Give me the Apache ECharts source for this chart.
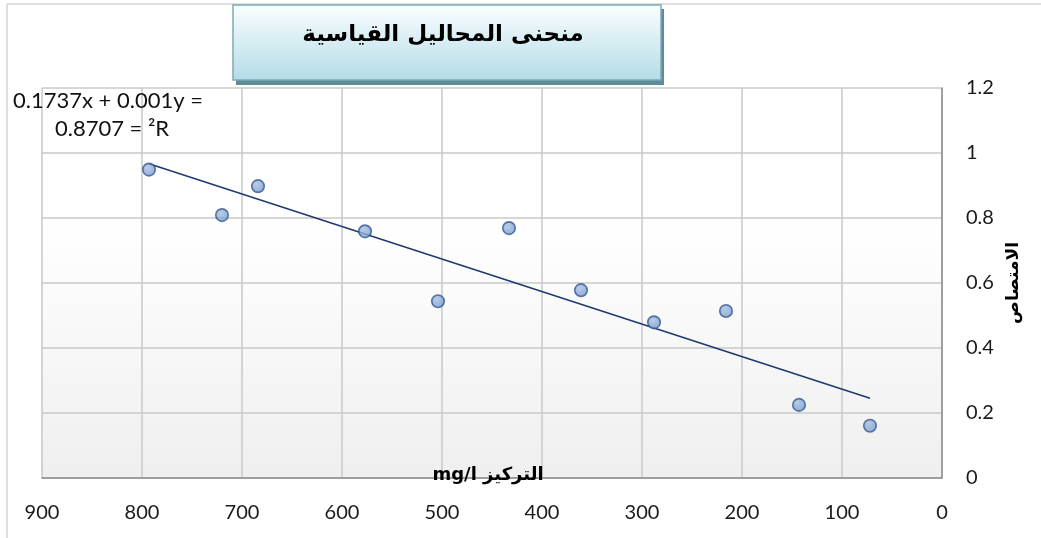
<!DOCTYPE html>
<html>
<head>
<meta charset="utf-8">
<script src="https://cdn.jsdelivr.net/npm/echarts@6/dist/echarts.min.js"></script>
<style>
html,body{margin:0;padding:0;background:#fff;}
#c{width:1041px;height:538px;}
</style>
</head>
<body>
<div id="c"></div>
<script>
// ---- data ----
var concentration = [793, 720, 684, 577, 504, 433, 361, 288, 216, 143, 72];
var absorbance    = [0.949, 0.809, 0.898, 0.759, 0.544, 0.769, 0.578, 0.479, 0.514, 0.225, 0.161];
var trendSlope = 0.001;
var trendIntercept = 0.1737;
var titleText = 'منحنى المحاليل القياسية';
var equationLine1 = '0.1737x + 0.001y =';
var equationLine2 = '0.8707 = ²R';
var xAxisName = 'mg/l التركيز';
var yAxisName = 'الامتصاص';

var points = concentration.map(function (x, i) { return [x, absorbance[i]]; });
var xMin = Math.min.apply(null, concentration);
var xMax = Math.max.apply(null, concentration);
var trend = [[xMax, trendSlope * xMax + trendIntercept], [xMin, trendSlope * xMin + trendIntercept]];

var font = 'Lato, "Open Sans", sans-serif';
var chart = echarts.init(document.getElementById('c'));
chart.setOption({
  animation: false,
  grid: {
    left: 42, right: 99, top: 88, bottom: 60,
    show: true, borderWidth: 0,
    backgroundColor: {
      type: 'linear', x: 0, y: 0, x2: 0, y2: 1,
      colorStops: [{offset: 0, color: '#ffffff'}, {offset: 0.35, color: '#ffffff'}, {offset: 1, color: '#efefef'}]
    }
  },
  xAxis: {
    type: 'value', inverse: true, min: 0, max: 900, interval: 100,
    axisLine: {show: true, lineStyle: {color: '#8c8c8c', width: 1.5}},
    axisTick: {show: false},
    splitLine: {show: true, lineStyle: {color: '#c8c8c8', width: 1.5}},
    axisLabel: {color: '#1a1a1a', fontSize: 20, fontFamily: font, margin: 25}
  },
  yAxis: {
    type: 'value', position: 'right', min: 0, max: 1.2, interval: 0.2,
    axisLine: {show: true, lineStyle: {color: '#8c8c8c', width: 1.5}},
    axisTick: {show: false},
    splitLine: {show: true, lineStyle: {color: '#c8c8c8', width: 1.5}},
    axisLabel: {color: '#1a1a1a', fontSize: 20, fontFamily: font, margin: 24},
    name: yAxisName, nameLocation: 'middle', nameRotate: 90, nameGap: 60,
    nameTextStyle: {color: '#000', fontSize: 17, fontWeight: 'bold', fontFamily: 'DejaVu Sans, sans-serif'}
  },
  series: [
    {
      type: 'line', data: trend, symbol: 'none', silent: true,
      lineStyle: {color: '#1f3a6e', width: 1.6}, z: 2
    },
    {
      type: 'scatter', data: points, symbol: 'circle', symbolSize: 12.5,
      itemStyle: {
        color: {type: 'radial', x: 0.4, y: 0.35, r: 0.7, colorStops: [{offset: 0, color: '#a6c0e4'}, {offset: 1, color: '#7097cc'}]},
        borderColor: '#34578f', borderWidth: 1.6
      }, z: 3
    }
  ],
  graphic: [
    {type: 'line', shape: {x1: 7, y1: 4, x2: 1041, y2: 4}, style: {stroke: '#d4d4d4', lineWidth: 1.5}, z: 1},
    {type: 'line', shape: {x1: 7, y1: 4, x2: 7, y2: 538}, style: {stroke: '#d4d4d4', lineWidth: 1.5}, z: 1},
    {type: 'rect', shape: {x: 236, y: 9, width: 428, height: 76}, style: {fill: '#5d8c99'}, z: 10},
    {type: 'rect', shape: {x: 233, y: 5, width: 428, height: 75},
      style: {
        fill: {type: 'linear', x: 0, y: 0, x2: 0, y2: 1, colorStops: [{offset: 0, color: '#fbfeff'}, {offset: 1, color: '#b3dce7'}]},
        stroke: '#7fa9b5', lineWidth: 1.5
      }, z: 11},
    {type: 'text', x: 443, y: 35, style: {text: titleText, fill: '#000', font: 'bold 23px "DejaVu Sans", sans-serif', textAlign: 'center', textVerticalAlign: 'middle'}, z: 12},
    {type: 'text', x: 108, y: 101, style: {text: equationLine1, fill: '#111', font: '22px Lato, sans-serif', textAlign: 'center', textVerticalAlign: 'middle'}, z: 12},
    {type: 'text', x: 112, y: 129, style: {text: equationLine2, fill: '#111', font: '22px Lato, sans-serif', textAlign: 'center', textVerticalAlign: 'middle'}, z: 12},
    {type: 'text', x: 488, y: 475, style: {text: xAxisName, fill: '#000', font: 'bold 18px "DejaVu Sans", sans-serif', textAlign: 'center', textVerticalAlign: 'middle'}, z: 12}
  ]
});
</script>
</body>
</html>
